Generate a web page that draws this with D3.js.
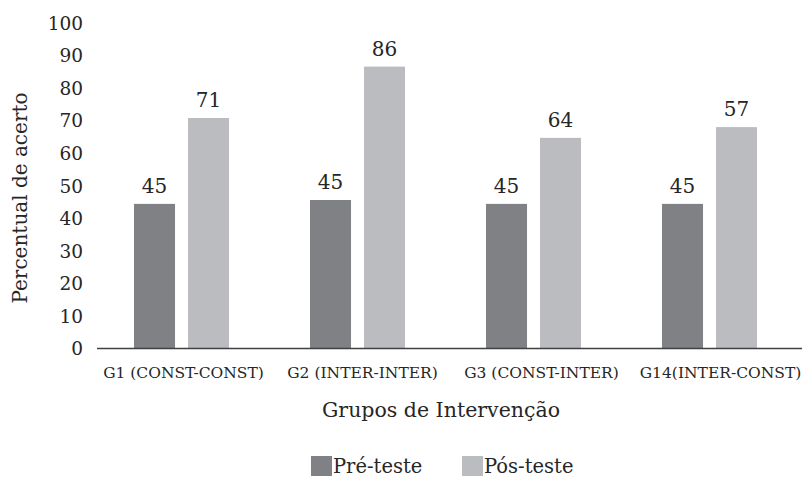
<!DOCTYPE html>
<html>
<head>
<meta charset="utf-8">
<script src="https://cdn.jsdelivr.net/npm/d3@7"></script>
<style>
  body { margin: 0; background: #fff; }
  svg text { font-family: "DejaVu Serif", serif; fill: #262626; }
</style>
</head>
<body>
<div id="chart"></div>
<script>
// Percentual de acerto, pré e pós-teste por grupo

const groups = ["G1 (CONST-CONST)", "G2 (INTER-INTER)", "G3 (CONST-INTER)", "G14(INTER-CONST)"];
const series = ["Pré-teste", "Pós-teste"];

// bar heights as drawn in the picture
const preValues = [44.3, 45.5, 44.3, 44.3];
const postValues = [70.7, 86.5, 64.6, 67.9];

// value labels as printed above the bars
const preLabels = ["45", "45", "45", "45"];
const postLabels = ["71", "86", "64", "57"];

const yTicks = [0, 10, 20, 30, 40, 50, 60, 70, 80, 90, 100];

const width = 805;
const height = 480;

const svg = d3.select("#chart")
  .append("svg")
  .attr("width", width)
  .attr("height", height);

// bars sit a little left of the category labels in the original
const x0 = d3.scaleBand()
  .domain(groups)
  .range([93.5, 797.5]);

const xLabel = d3.scaleBand()
  .domain(groups)
  .range([94, 810]);

const x1 = d3.scaleBand()
  .domain(series)
  .range([x0.bandwidth() / 2 - 47.5, x0.bandwidth() / 2 + 47.5])
  .paddingInner(0.24);

const y = d3.scaleLinear()
  .domain([0, 100])
  .range([348, 22.7]);

const color = d3.scaleOrdinal()
  .domain(series)
  .range(["#808184", "#bbbcc0"]);

const chartData = groups.map((g, i) => ({
  group: g,
  values: [
    { key: series[0], value: preValues[i], label: preLabels[i] },
    { key: series[1], value: postValues[i], label: postLabels[i] }
  ]
}));

// y axis labels only
const yAxis = svg.append("g")
  .attr("transform", "translate(91,0)")
  .call(d3.axisLeft(y).tickValues(yTicks).tickSize(0).tickPadding(8));
yAxis.select(".domain").remove();
yAxis.selectAll("text")
  .attr("dy", "0.36em")
  .style("font-size", "18.5px")
  .style("font-family", "DejaVu Serif, serif")
  .attr("fill", "#262626");

const gGroups = svg.selectAll(".grp")
  .data(chartData)
  .enter()
  .append("g")
  .attr("class", "grp")
  .attr("transform", d => `translate(${x0(d.group)},0)`);

gGroups.selectAll("rect")
  .data(d => d.values)
  .enter()
  .append("rect")
  .attr("x", d => x1(d.key))
  .attr("y", d => y(d.value))
  .attr("width", x1.bandwidth())
  .attr("height", d => y(0) - y(d.value))
  .attr("fill", d => color(d.key));

gGroups.selectAll(".val")
  .data(d => d.values)
  .enter()
  .append("text")
  .attr("class", "val")
  .attr("x", d => x1(d.key) + x1.bandwidth() / 2)
  .attr("y", d => y(d.value) - 11)
  .attr("text-anchor", "middle")
  .style("font-size", "20px")
  .text(d => d.label);

// x axis
svg.append("line")
  .attr("x1", 97)
  .attr("x2", 802)
  .attr("y1", y(0) + 0.5)
  .attr("y2", y(0) + 0.5)
  .attr("stroke", "#404040")
  .attr("stroke-width", 1.5);

const xAxis = svg.append("g")
  .attr("transform", `translate(0,${y(0)})`)
  .call(d3.axisBottom(xLabel).tickSize(0).tickPadding(19));
xAxis.select(".domain").remove();
xAxis.selectAll("text")
  .style("font-size", "15.5px")
  .style("font-family", "DejaVu Serif, serif")
  .attr("fill", "#262626");

svg.append("text")
  .attr("x", 441)
  .attr("y", 417)
  .attr("text-anchor", "middle")
  .style("font-size", "20.5px")
  .text("Grupos de Intervenção");

svg.append("text")
  .attr("transform", "rotate(-90)")
  .attr("x", -198)
  .attr("y", 27)
  .attr("text-anchor", "middle")
  .style("font-size", "20px")
  .text("Percentual de acerto");

// legend
const legend = svg.selectAll(".legend")
  .data(series)
  .enter()
  .append("g")
  .attr("class", "legend")
  .attr("transform", (d, i) => `translate(${311 + i * 151},456)`);

legend.append("rect")
  .attr("width", 21)
  .attr("height", 20)
  .attr("fill", d => color(d));

legend.append("text")
  .attr("x", 22)
  .attr("y", 17)
  .style("font-size", "19.5px")
  .text(d => d);
</script>
</body>
</html>
